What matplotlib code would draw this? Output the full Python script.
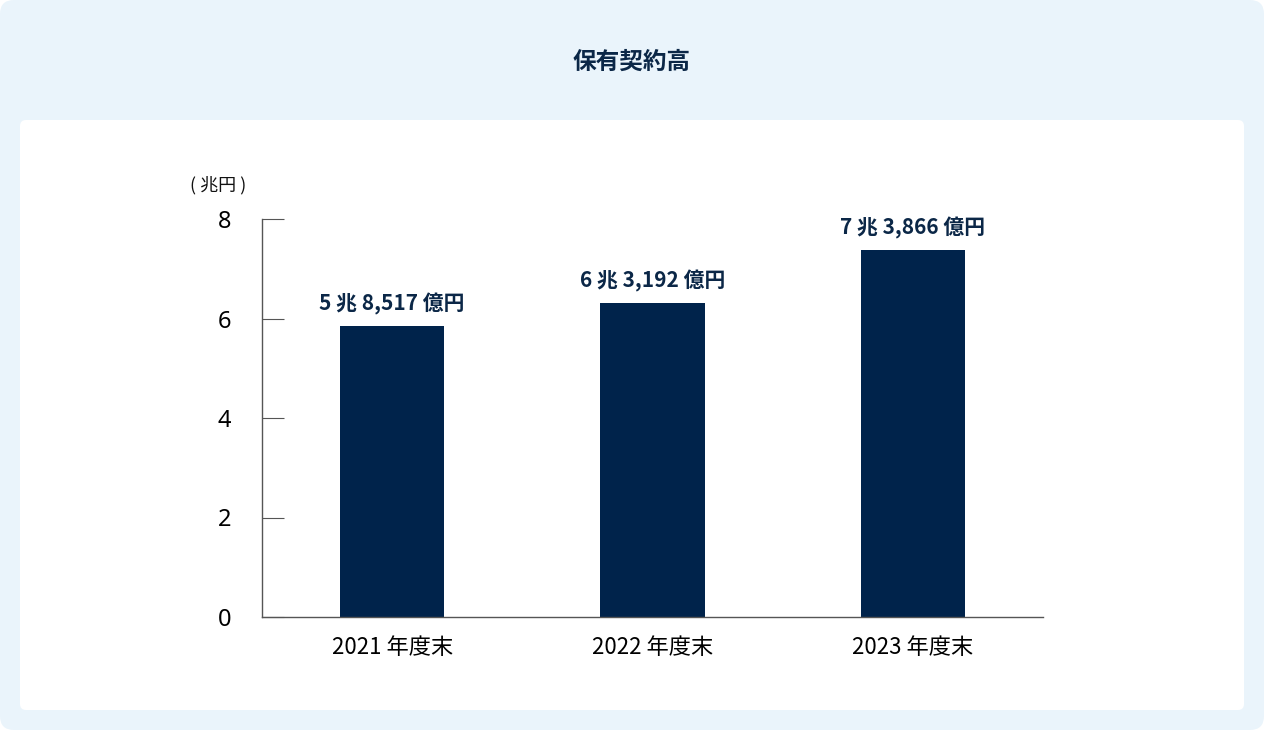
import matplotlib
matplotlib.use("Agg")
import matplotlib.pyplot as plt
from matplotlib.patches import FancyBboxPatch

categories = ["2021 年度末", "2022 年度末", "2023 年度末"]
values = [5.8517, 6.3192, 7.3866]
labels = ["5 兆 8,517 億円", "6 兆 3,192 億円", "7 兆 3,866 億円"]
yticks = [0, 2, 4, 6, 8]

plt.rcParams["font.family"] = "Noto Sans CJK JP"
W, H = 1264, 730
fig = plt.figure(figsize=(W/100, H/100), dpi=100)
fig.patch.set_facecolor("white")
bgax = fig.add_axes([0, 0, 1, 1], zorder=-5)
bgax.set_axis_off()
bgax.set_xlim(0, W); bgax.set_ylim(0, H)
bgax.add_patch(FancyBboxPatch((0, 0), W, H, boxstyle="round,pad=0,rounding_size=14",
                              facecolor="#EAF4FB", edgecolor="none"))
bgax.add_patch(FancyBboxPatch((20, 20), 1224, 590, boxstyle="round,pad=0,rounding_size=6",
                              facecolor="white", edgecolor="none"))
fig.text(632/W, 1-62/H, "保有契約高", ha="center", va="center", fontsize=17,
         fontweight="bold", color="#0B2747")

ax = fig.add_axes([262/W, 1-617/H, 781/W, 398/H])
ax.set_facecolor("none")
navy = "#00234B"
x = range(len(categories))
ax.bar(x, values, width=0.4, color=navy)
for i, (v, l) in enumerate(zip(values, labels)):
    ax.text(i, v + 0.22, l, ha="center", va="bottom", fontsize=15, fontweight="bold", color="#0B2747")
ax.set_xlim(-0.5, 2.5)
ax.set_ylim(0, 8)
ax.set_yticks(yticks)
ax.set_xticks(list(x))
ax.set_xticklabels(categories, fontsize=16)
ax.tick_params(axis="x", length=0, pad=14)
ax.tick_params(axis="y", length=16, direction="in", labelsize=17, pad=22, color="#555555")
for t in ax.get_yticklabels():
    t.set_fontfamily("Noto Sans")
for s in ["top", "right"]:
    ax.spines[s].set_visible(False)
for s in ["left", "bottom"]:
    ax.spines[s].set_color("#555555")
    ax.spines[s].set_linewidth(1)
fig.text(218/W, 1-185/H, "( 兆円 )", ha="center", va="center", fontsize=13, color="#111111")
fig.savefig("out.png", dpi=100)
